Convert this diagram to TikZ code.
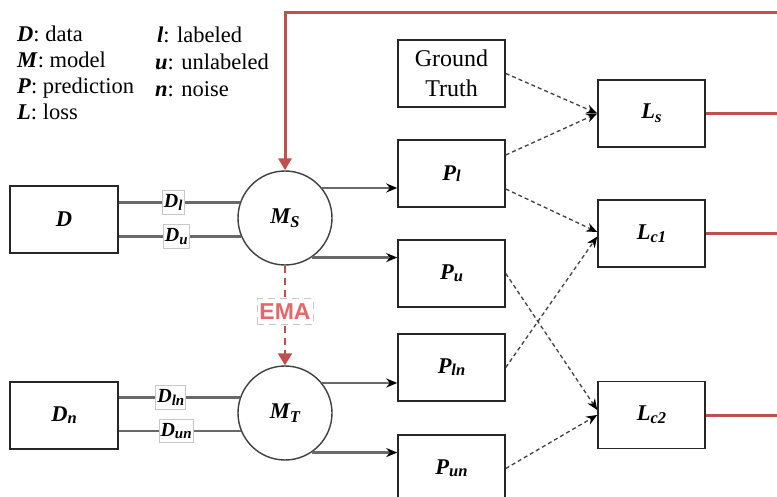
\documentclass[tikz,border=0pt]{standalone}
\usepackage{fontspec}
\setmainfont{Liberation Serif}
\setsansfont{Liberation Sans}
\usetikzlibrary{arrows.meta}
\definecolor{lossred}{RGB}{192,80,77}
\definecolor{emared}{RGB}{229,104,104}
\definecolor{wiregray}{RGB}{105,105,105}
% bold italic symbol with a lowered, smaller index
\newcommand{\bisub}[3][3pt]{\textbf{\textit{#2\raisebox{-#1}{\fontsize{16.5}{16}\selectfont #3}}}}
\newcommand{\tagsub}[3][2.5pt]{\textbf{\textit{#2\raisebox{-#1}{\fontsize{15}{15}\selectfont #3}}}}
\newcommand{\bichar}[1]{\textbf{\textit{#1}}}
\begin{document}
\begin{tikzpicture}[x=1pt,y=-1pt,
  box/.style={draw=black!85, line width=1.5pt, minimum width=107pt, minimum height=67pt,
    inner sep=0pt, align=center, font=\fontsize{22.5}{29}\selectfont},
  model/.style={circle, draw=black!75, line width=1.4pt, minimum size=94pt, inner sep=0pt,
    font=\fontsize{22.5}{26}\selectfont},
  legend/.style={anchor=base west, inner sep=0pt, font=\fontsize{22.5}{26}\selectfont},
  wire/.style={draw=wiregray, line width=2.3pt},
  feed/.style={wire, -{Stealth[length=11pt,width=9pt,color=black]}},
  tag/.style={draw=black!22, fill=white, line width=0.8pt, inner xsep=1.5pt, inner ysep=4pt,
    font=\fontsize{20}{20}\selectfont},
  hint/.style={draw=black!75, line width=1.3pt, dash pattern=on 4pt off 3pt,
    -{Stealth[length=11pt,width=9pt,color=black]}},
  lossline/.style={draw=lossred, line width=3pt},
  emaline/.style={draw=lossred, line width=2.4pt, dash pattern=on 7pt off 5pt,
    -{Triangle[length=12pt,width=14pt]}},
  ematag/.style={draw=black!22, fill=white, line width=0.8pt, inner xsep=2.5pt, inner ysep=5pt,
    text=emared, font=\sffamily\bfseries\fontsize{23}{24}\selectfont},
]
\clip (0,0) rectangle (777,497);
\fill[white] (0,0) rectangle (777,497);

% legend
\node[legend] (lgD) at (17,42) {\bichar{D}: data};
\node[legend] (lgM) at (17,68) {\bichar{M}: model};
\node[legend] (lgP) at (17,94) {\bichar{P}: prediction};
\node[legend] (lgL) at (17,120) {\bichar{L}: loss};
\node[legend] (lgl) at (157,43) {\bichar{l}: labeled};
\node[legend] (lgu) at (155,70) {\bichar{u}: unlabeled};
\node[legend] (lgn) at (155,97) {\bichar{n}: noise};

% data
\node[box, minimum width=108pt] (D) at (64,219.5) {\bichar{D}};
\node[box, minimum width=108pt] (Dn) at (64,415.5) {\bisub[2pt]{D}{n}};

% models
\node[model] (Ms) at (285,218) {\bisub[4pt]{M}{S}};
\node[model] (Mt) at (285,413) {\bisub[4pt]{M}{T}};

% predictions and ground truth
\node[box, font=\fontsize{24}{30}\selectfont] (GT) at (451.5,73.5) {Ground\\Truth};
\node[box] (Pl) at (451.5,173.5) {\bisub[1pt]{P}{l}};
\node[box] (Pu) at (451.5,273.5) {\bisub[2pt]{P}{u}};
\node[box] (Pln) at (451.5,367.5) {\bisub[2pt]{P}{ln}};
\node[box] (Pun) at (451.5,468.5) {\bisub[2pt]{P}{un}};

% losses
\node[box] (Ls) at (651.5,113.5) {\bisub[4pt]{L}{s}};
\node[box] (Lc1) at (651.5,233.5) {\bisub[3pt]{L}{c1}};
\node[box] (Lc2) at (651.5,415) {\bisub[3pt]{L}{c2}};

\coordinate (edge) at (790,13);

% data splits into the models
\draw[wire] (Ms.161.4 -| D.east) -- (Ms.161.4) node[tag, pos=0.45] (tDl) {\tagsub{D}{l}};
\draw[wire] (Ms.203.8 -| D.east) -- (Ms.203.8) node[tag, pos=0.47] (tDu) {\tagsub{D}{u}};
\draw[wire] (Mt.161.4 -| Dn.east) -- (Mt.161.4) node[tag, pos=0.43] (tDln) {\tagsub{D}{ln}};
\draw[wire] (Mt.202.5 -| Dn.east) -- (Mt.202.5) node[tag, pos=0.47] (tDun) {\tagsub{D}{un}};

% model outputs
\draw[feed] (Ms.39.7) -- (Ms.39.7 -| Pl.west);
\draw[feed] (Ms.-56) -- (Ms.-56 -| Pu.west);
\draw[feed] (Mt.39.7) -- (Mt.39.7 -| Pln.west);
\draw[feed] (Mt.-56) -- (Mt.-56 -| Pun.west);

% loss inputs
\draw[hint] (GT.east) -- (Ls.west);
\draw[hint] ([yshift=18.5pt]Pl.east) -- (Ls.west);
\draw[hint] ([yshift=-15.5pt]Pl.east) -- ([yshift=1.5pt]Lc1.west);
\draw[hint] (Pu.east) -- ([yshift=5pt]Lc2.west);
\draw[hint] (Pln.east) -- ([yshift=-3pt]Lc1.west);
\draw[hint] (Pun.east) -- (Lc2.west);

% EMA update of the teacher
\draw[emaline] (Ms.south) -- (Mt.north) node[ematag, pos=0.46] (ema) {EMA};

% loss feedback into the student
\draw[lossline] (Ls.east) -- (Ls.east -| edge);
\draw[lossline] (Lc1.east) -- (Lc1.east -| edge);
\draw[lossline] (Lc2.east) -- (Lc2.east -| edge);
\draw[lossline, -{Triangle[length=12pt,width=13pt]}] (edge) -| (Ms.north);
\end{tikzpicture}
\end{document}
